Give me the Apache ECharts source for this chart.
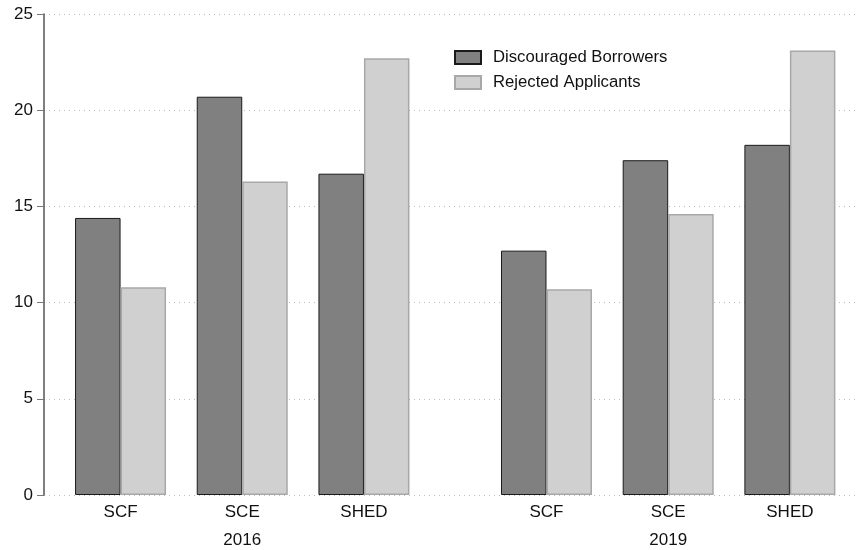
<!DOCTYPE html>
<html>
<head>
<meta charset="utf-8">
<script src="https://cdn.jsdelivr.net/npm/echarts@6/dist/echarts.min.js"></script>
<style>html,body{margin:0;padding:0;background:#fff;}#c{width:857px;height:550px;}</style>
</head>
<body>
<div id="c"></div>
<script>
// Data
const surveys = ['SCF', 'SCE', 'SHED', 'SCF', 'SCE', 'SHED'];
const years = ['2016', '2019'];
const discouraged = [14.4, 20.7, 16.7, 12.7, 17.4, 18.2];
const rejected = [10.8, 16.3, 22.7, 10.7, 14.6, 23.1];
const yTicks = [0, 5, 10, 15, 20, 25];

// Layout positions of the category slots on a value x axis (group gap between years)
const slotPos = [0, 1, 2, 3.5, 4.5, 5.5];
const yearPos = [1, 4.5];

const font = 'Liberation Sans, Arial, sans-serif';
const chart = echarts.init(document.getElementById('c'), null, {renderer: 'canvas'});

const labelMap = {};
slotPos.forEach((p, i) => labelMap[p] = surveys[i]);
const yearMap = {};
yearPos.forEach((p, i) => yearMap[p] = years[i]);

chart.setOption({
  animation: false,
  backgroundColor: '#fff',
  textStyle: {fontFamily: font},
  grid: {left: 44, right: 2, top: 14, bottom: 55},
  legend: {
    orient: 'vertical',
    left: 454, top: 49, padding: 0,
    icon: 'rect',
    itemWidth: 26, itemHeight: 13, itemGap: 8,
    textStyle: {fontSize: 16.7, color: '#111', fontFamily: font, padding: [0, 0, 0, 7]},
    data: ['Discouraged Borrowers', 'Rejected Applicants']
  },
  xAxis: [{
    type: 'value', min: -0.629, max: 6.035,
    axisLine: {show: false}, axisTick: {show: false}, splitLine: {show: false},
    axisLabel: {
      customValues: slotPos, fontSize: 17, color: '#111', margin: 9,
      formatter: v => labelMap[v] || ''
    }
  }, {
    type: 'value', min: -0.629, max: 6.035, position: 'bottom',
    axisLine: {show: false}, axisTick: {show: false}, splitLine: {show: false},
    axisLabel: {
      customValues: yearPos, fontSize: 17, color: '#111', margin: 37,
      formatter: v => yearMap[v] || ''
    }
  }],
  yAxis: {
    type: 'value', min: 0, max: 25, interval: 5,
    axisLine: {show: true, onZero: false, lineStyle: {color: '#555', width: 1.5}},
    axisTick: {show: true, length: 7, lineStyle: {color: '#777'}},
    axisLabel: {fontSize: 17, color: '#111', margin: 11,
      formatter: v => yTicks.includes(v) ? String(v) : ''},
    splitLine: {show: true, lineStyle: {type: [1, 4], color: '#bbb', width: 1}}
  },
  series: [{
    name: 'Discouraged Borrowers', type: 'bar', barWidth: 45.5, barGap: '0%',
    itemStyle: {color: '#808080', borderColor: '#1a1a1a', borderWidth: 1},
    data: slotPos.map((p, i) => [p, discouraged[i]])
  }, {
    name: 'Rejected Applicants', type: 'bar', barWidth: 45.5, barGap: '0%',
    itemStyle: {color: '#d0d0d0', borderColor: '#a8a8a8', borderWidth: 1.5},
    data: slotPos.map((p, i) => [p, rejected[i]])
  }]
});
</script>
</body>
</html>
